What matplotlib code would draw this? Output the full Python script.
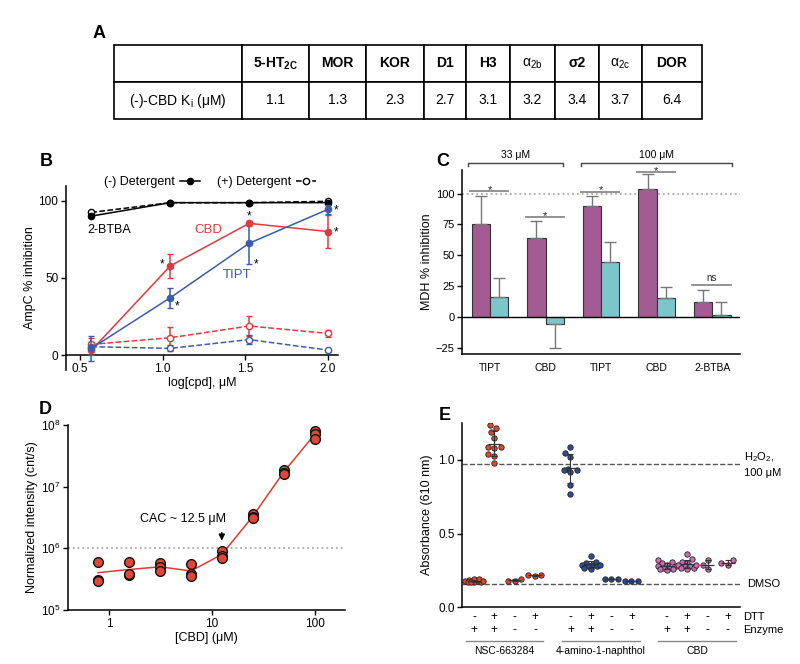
import numpy as np
import matplotlib
matplotlib.use("Agg")
import matplotlib.pyplot as plt
from matplotlib.lines import Line2D
from matplotlib.ticker import NullLocator
import matplotlib.transforms as mtrans

plt.rcParams['font.family'] = ['Liberation Sans', 'DejaVu Sans']
plt.rcParams['mathtext.fontset'] = 'custom'
plt.rcParams['mathtext.rm'] = 'Liberation Sans'
plt.rcParams['mathtext.it'] = 'Liberation Sans:italic'
plt.rcParams['mathtext.bf'] = 'Liberation Sans:bold'
plt.rcParams['axes.linewidth'] = 1.1
plt.rcParams['xtick.major.width'] = 1.0
plt.rcParams['ytick.major.width'] = 1.0
plt.rcParams['xtick.major.size'] = 3.5
plt.rcParams['ytick.major.size'] = 3.5

# ---------------- data ----------------
# A: Ki table
targets = ['5-HT$_{\\mathbf{2C}}$', 'MOR', 'KOR', 'D1', 'H3', 'α$_{\\mathrm{2b}}$', 'σ2', 'α$_{\\mathrm{2c}}$', 'DOR']
ki_values = [1.1, 1.3, 2.3, 2.7, 3.1, 3.2, 3.4, 3.7, 6.4]
row_label = '(-)-CBD K$_{\\mathrm{i}}$ (μM)'

# B: AmpC inhibition vs log concentration
conc_b = [3.7, 11.1, 33.3, 100.0]
btba_minus = [90.0, 98.7, 98.7, 98.7]
btba_plus = [92.4, 98.7, 98.7, 99.6]
cbd_minus = [3.0, 57.7, 85.3, 80.0]
cbd_minus_err = [3.0, 7.5, 1.5, 10.5]
tipt_minus = [4.3, 37.1, 72.4, 94.4]
tipt_minus_err = [8.0, 6.5, 13.2, 3.0]
cbd_plus = [6.9, 11.2, 18.8, 14.0]
cbd_plus_err = [4.0, 7.0, 6.5, 2.0]
tipt_plus = [5.4, 4.3, 10.0, 3.2]
tipt_plus_err = [3.0, 2.0, 3.0, 1.0]

# C: MDH inhibition
mdh_groups = ['TIPT', 'CBD', 'TIPT', 'CBD', '2-BTBA']
mdh_minus = [75.5, 64.2, 89.5, 104.0, 11.9]
mdh_minus_err = [22.3, 13.4, 8.3, 11.4, 9.9]
mdh_plus = [16.2, -5.9, 44.5, 15.4, 1.6]
mdh_plus_err = [15.3, 19.1, 16.1, 8.9, 10.3]
sig_level = [101.7, 80.6, 101.6, 117.0, 26.0]
sig_text = ['*', '*', '*', '*', 'ns']

# D: CAC measurement
cbd_conc = [0.78, 1.56, 3.125, 6.25, 12.5, 25, 50, 100]
intensity = [[6.1e5, 3.1e5, 2.9e5],
             [6.1e5, 3.7e5, 3.8e5],
             [5.7e5, 5.0e5, 4.35e5],
             [5.5e5, 3.8e5, 3.6e5],
             [9.2e5, 7.5e5, 7.1e5],
             [3.6e6, 3.2e6, 3.1e6],
             [1.86e7, 1.69e7, 1.6e7],
             [8.1e7, 7.1e7, 5.9e7]]

# E: redox cycling assay
e_groups = ['NSC-663284', '4-amino-1-naphthol', 'CBD']
dtt = ['-', '+', '-', '+']
enzyme = ['+', '+', '-', '-']
nsc = [[0.18, 0.17, 0.19, 0.175, 0.185, 0.18, 0.17, 0.19, 0.18, 0.175],
       [1.24, 1.22, 1.19, 1.15, 1.09, 1.08, 1.09, 1.04, 1.03, 0.98],
       [0.18, 0.19, 0.18],
       [0.21, 0.22, 0.22]]
amino = [[1.09, 1.05, 1.02, 0.94, 0.93, 0.93, 0.92, 0.83, 0.77],
         [0.35, 0.31, 0.30, 0.29, 0.29, 0.28, 0.28, 0.29, 0.26, 0.27],
         [0.19, 0.19, 0.19],
         [0.18, 0.18, 0.18]]
cbd_e = [[0.32, 0.31, 0.30, 0.29, 0.28, 0.28, 0.27, 0.27, 0.26, 0.25, 0.26],
         [0.36, 0.33, 0.31, 0.30, 0.29, 0.28, 0.28, 0.27, 0.27, 0.26, 0.29],
         [0.32, 0.29, 0.26],
         [0.32, 0.29, 0.30]]
h2o2_level = 0.973
dmso_level = 0.158

W, H = 800, 664
fig = plt.figure(figsize=(W / 100, H / 100), dpi=100)


def px_axes(l, t, r, b):
    return fig.add_axes([l / W, 1 - b / H, (r - l) / W, (b - t) / H])


def panel_label(s, x, y):
    fig.text(x / W, 1 - y / H, s, fontsize=13, fontweight='bold', ha='center', va='center')


# ---------------- A ----------------
axA = px_axes(114, 45, 702, 119)
axA.axis('off')
col_w = np.array([128, 67, 57, 58, 42, 44, 45, 44, 43, 60], float)
tbl = axA.table(cellText=[[''] + targets, [row_label] + [f'{v:.1f}' for v in ki_values]],
                colWidths=list(col_w / col_w.sum()), cellLoc='center', bbox=[0, 0, 1, 1])
tbl.auto_set_font_size(False)
tbl.set_fontsize(10)
for (r, c), cell in tbl.get_celld().items():
    cell.set_linewidth(1.2)
    if r == 0 and not cell.get_text().get_text().startswith('α'):
        cell.get_text().set_fontweight('bold')
panel_label('A', 99, 33)

# ---------------- B ----------------
axB = px_axes(66, 186, 338, 370)
xb = np.log10(conc_b)
red, blue = '#e0393e', '#3b5bab'
axB.plot(xb, btba_minus, '-o', color='k', ms=4.5, lw=1.1, zorder=4)
axB.plot(xb, btba_plus, '--o', color='k', ms=4.5, lw=1.1, mfc='white', zorder=3)
axB.errorbar(xb, cbd_minus, yerr=cbd_minus_err, fmt='-o', color=red, ms=4.5, lw=1.1, capsize=2.5, zorder=4)
axB.errorbar(xb, tipt_minus, yerr=tipt_minus_err, fmt='-o', color=blue, ms=4.5, lw=1.1, capsize=2.5, zorder=4)
axB.errorbar(xb, cbd_plus, yerr=cbd_plus_err, fmt='--o', color=red, ms=4.5, lw=1.1, capsize=2.5, mfc='white', zorder=3)
axB.errorbar(xb, tipt_plus, yerr=tipt_plus_err, fmt='--o', color=blue, ms=4.5, lw=1.1, capsize=2.5, mfc='white', zorder=3)
axB.set_xlim(0.415, 2.06)
axB.set_ylim(-9.7, 109.5)
axB.spines['bottom'].set_position(('data', 0))
for s in ['top', 'right']:
    axB.spines[s].set_visible(False)
axB.set_xticks([0.5, 1.0, 1.5, 2.0], ['0.5', '1.0', '1.5', '2.0'])
axB.set_yticks([0, 50, 100])
axB.tick_params(labelsize=8.5, pad=2)
axB.set_xlabel('log[cpd], μM', fontsize=9, labelpad=2)
axB.set_ylabel('AmpC % inhibition', fontsize=9, labelpad=2)
axB.text(xb[0] + 0.11, 81, '2-BTBA', fontsize=9, ha='center', va='center')
axB.text(1.274, 81, 'CBD', fontsize=9.5, color=red, ha='center', va='center')
axB.text(1.45, 51.8, 'TIPT', fontsize=9.5, color=blue, ha='center', va='center')
stars = [(cbd_minus, 1, -6, 1), (tipt_minus, 1, 5, -6), (cbd_minus, 2, 0, 5),
         (tipt_minus, 2, 5, -15), (tipt_minus, 3, 6, -1), (cbd_minus, 3, 6, -1)]
for series, i, dx, dy in stars:
    axB.annotate('*', (xb[i], series[i]), xytext=(dx, dy), textcoords='offset points',
                 ha='center', va='center', fontsize=8.5, annotation_clip=False)
handles = [Line2D([], [], color='k', marker='o', ms=4.5, ls='-', lw=1.1),
           Line2D([], [], color='k', marker='o', ms=4.5, ls='--', lw=1.1, mfc='white')]
axB.legend(handles, ['(-) Detergent', '(+) Detergent'], ncol=2, markerfirst=False, frameon=False,
           loc='center', bbox_to_anchor=(0.53, 1.02), fontsize=9, handlelength=1.6,
           columnspacing=1.3, handletextpad=0.4, borderpad=0)
panel_label('B', 46, 162)

# ---------------- C ----------------
axC = px_axes(462, 170, 740, 354.3)
xc = np.arange(len(mdh_groups))
bw = 0.33
purple, teal = '#a45a92', '#7cc5cb'
minus_err = [[0] * len(mdh_minus), mdh_minus_err]
plus_err = [[e if v < 0 else 0 for v, e in zip(mdh_plus, mdh_plus_err)],
            [0 if v < 0 else e for v, e in zip(mdh_plus, mdh_plus_err)]]
axC.bar(xc - bw / 2, mdh_minus, bw, color=purple, edgecolor='#333333', lw=0.8, zorder=3,
        yerr=minus_err, error_kw=dict(ecolor='#777777', elinewidth=1, capsize=4, capthick=1))
axC.bar(xc + bw / 2, mdh_plus, bw, color=teal, edgecolor='#333333', lw=0.8, zorder=3,
        yerr=plus_err, error_kw=dict(ecolor='#777777', elinewidth=1, capsize=4, capthick=1))
axC.axhline(0, color='k', lw=1, zorder=4)
axC.axhline(100, color='#aaaaaa', ls=':', lw=1.3, zorder=1)
for x, lev, t in zip(xc, sig_level, sig_text):
    axC.plot([x - 0.36, x + 0.33], [lev, lev], color='#8a8a8a', lw=1.3, zorder=2)
    axC.text(x - 0.01, lev + (1 if t == '*' else 2), t, ha='center', va='bottom' if t == 'ns' else 'center',
             fontsize=7 if t == 'ns' else 8, color='#222222')
for x0, x1, lab in [(-0.39, 1.32, '33 μM'), (1.64, 4.35, '100 μM')]:
    axC.plot([x0, x0, x1, x1], [122.5, 124.7, 124.7, 122.5], color='#444444', lw=1, clip_on=False)
    axC.text((x0 + x1) / 2, 131, lab, ha='center', va='center', fontsize=7.5, clip_on=False)
axC.set_xlim(-0.505, 4.5)
axC.set_ylim(-30, 119)
for s in ['top', 'right']:
    axC.spines[s].set_visible(False)
axC.set_yticks([-25, 0, 25, 50, 75, 100])
axC.set_xticks(xc, mdh_groups)
axC.tick_params(axis='x', length=0, labelsize=7.5, pad=6)
axC.tick_params(axis='y', labelsize=8, pad=2)
axC.set_ylabel('MDH % inhibition', fontsize=9, labelpad=2)
panel_label('C', 443, 162)

# ---------------- D ----------------
axD = px_axes(68.3, 425, 345, 610)
dred = '#e0473a'
means = [np.mean(v) for v in intensity]
axD.plot(cbd_conc, means, '-', color='#e23b2e', lw=1.1, zorder=2)
for c, reps in zip(cbd_conc, intensity):
    axD.plot([c] * len(reps), reps, 'o', ms=7, mfc=dred, mec='#111111', mew=1.0, zorder=3, ls='none')
axD.axhline(1e6, color='#aaaaaa', ls=':', lw=1.3, zorder=1)
axD.set_xscale('log')
axD.set_yscale('log')
axD.set_xlim(0.40, 198)
axD.set_ylim(1e5, 1e8)
axD.set_xticks([1, 10, 100], ['1', '10', '100'])
axD.xaxis.set_minor_locator(NullLocator())
axD.yaxis.set_minor_locator(NullLocator())
axD.set_yticks([1e5, 1e6, 1e7, 1e8])
for s in ['top', 'right']:
    axD.spines[s].set_visible(False)
axD.tick_params(labelsize=8.5, pad=2)
axD.set_xlabel('[CBD] (μM)', fontsize=9, labelpad=2)
axD.set_ylabel('Normalized intensity (cnt/s)', fontsize=9, labelpad=2)
axD.annotate('', xy=(12.5, 1.2e6), xytext=(12.5, 2.0e6),
             arrowprops=dict(arrowstyle='-|>', color='k', lw=1, mutation_scale=9))
axD.text(5.25, 3.0e6, 'CAC ~ 12.5 μM', ha='center', va='center', fontsize=9)
panel_label('D', 45, 410)

# ---------------- E ----------------
axE = px_axes(462.3, 422.7, 740, 607.3)
sx, sy = 20.3, 147.3  # px per data unit


def swarm(vals, gap=6.5, limit=9.0):
    vals = np.asarray(vals, float)
    cand = np.arange(-limit, limit + 0.01, 0.5)
    cand = cand[np.argsort(np.abs(cand), kind='stable')]
    px, py = [], []
    offs = np.zeros(len(vals))
    for i in np.argsort(vals, kind='stable'):
        y = vals[i] * sy
        best, best_d = 0.0, -1.0
        for c in cand:
            d = min([np.hypot(c - a, y - b) for a, b in zip(px, py)], default=1e9)
            if d >= gap:
                best = c
                break
            if d > best_d:
                best, best_d = c, d
        px.append(best)
        py.append(y)
        offs[i] = best / sx
    return offs


e_colors = ['#e8452f', '#2d4c94', '#cc6cb5']
for g, (cols, colr) in enumerate(zip([nsc, amino, cbd_e], e_colors)):
    base = g * 4.75
    for i, vals in enumerate(cols):
        x = base + i
        axE.scatter(x + swarm(vals), vals, s=15, c=colr, edgecolors='#222222', linewidths=0.6, zorder=3)
        m, sd = np.mean(vals), np.std(vals, ddof=1)
        axE.errorbar([x], [m], yerr=[sd], color='#333333', lw=0.8, capsize=2.5, capthick=0.8, zorder=4)
        axE.hlines(m, x - 0.33, x + 0.33, color='#333333', lw=0.9, zorder=4)
    tr = mtrans.blended_transform_factory(axE.transData, axE.transAxes)
    for i in range(4):
        axE.text(base + i, -0.051, dtt[i], transform=tr, ha='center', va='center', fontsize=8.5)
        axE.text(base + i, -0.123, enzyme[i], transform=tr, ha='center', va='center', fontsize=8.5)
    axE.plot([base - 0.42, base + 3.42], [-0.181, -0.181], transform=tr, color='#888888', lw=1, clip_on=False)
    axE.text(base + 1.5, -0.236, e_groups[g], transform=tr, ha='center', va='center', fontsize=7.5)
tr = mtrans.blended_transform_factory(axE.transAxes, axE.transAxes)
axE.text(1.01, -0.051, 'DTT', transform=tr, ha='left', va='center', fontsize=8)
axE.text(1.01, -0.123, 'Enzyme', transform=tr, ha='left', va='center', fontsize=8)
axE.axhline(h2o2_level, color='#555555', ls='--', lw=1, zorder=1)
axE.axhline(dmso_level, color='#555555', ls='--', lw=1, zorder=1)
tr2 = mtrans.blended_transform_factory(axE.transAxes, axE.transData)
axE.text(1.015, h2o2_level, 'H$_2$O$_2$,\n100 μM', transform=tr2, ha='left', va='center',
         fontsize=8, linespacing=1.5)
axE.text(1.025, dmso_level, 'DMSO', transform=tr2, ha='left', va='center', fontsize=8)
axE.set_xlim(-0.58, 13.1)
axE.set_ylim(0, 1.253)
axE.set_yticks([0.0, 0.5, 1.0], ['0.0', '0.5', '1.0'])
axE.set_xticks([])
for s in ['top', 'right']:
    axE.spines[s].set_visible(False)
axE.tick_params(labelsize=8.5, pad=2)
axE.set_ylabel('Absorbance (610 nm)', fontsize=9, labelpad=4)
panel_label('E', 445, 415)

fig.savefig('out.png', dpi=100)
